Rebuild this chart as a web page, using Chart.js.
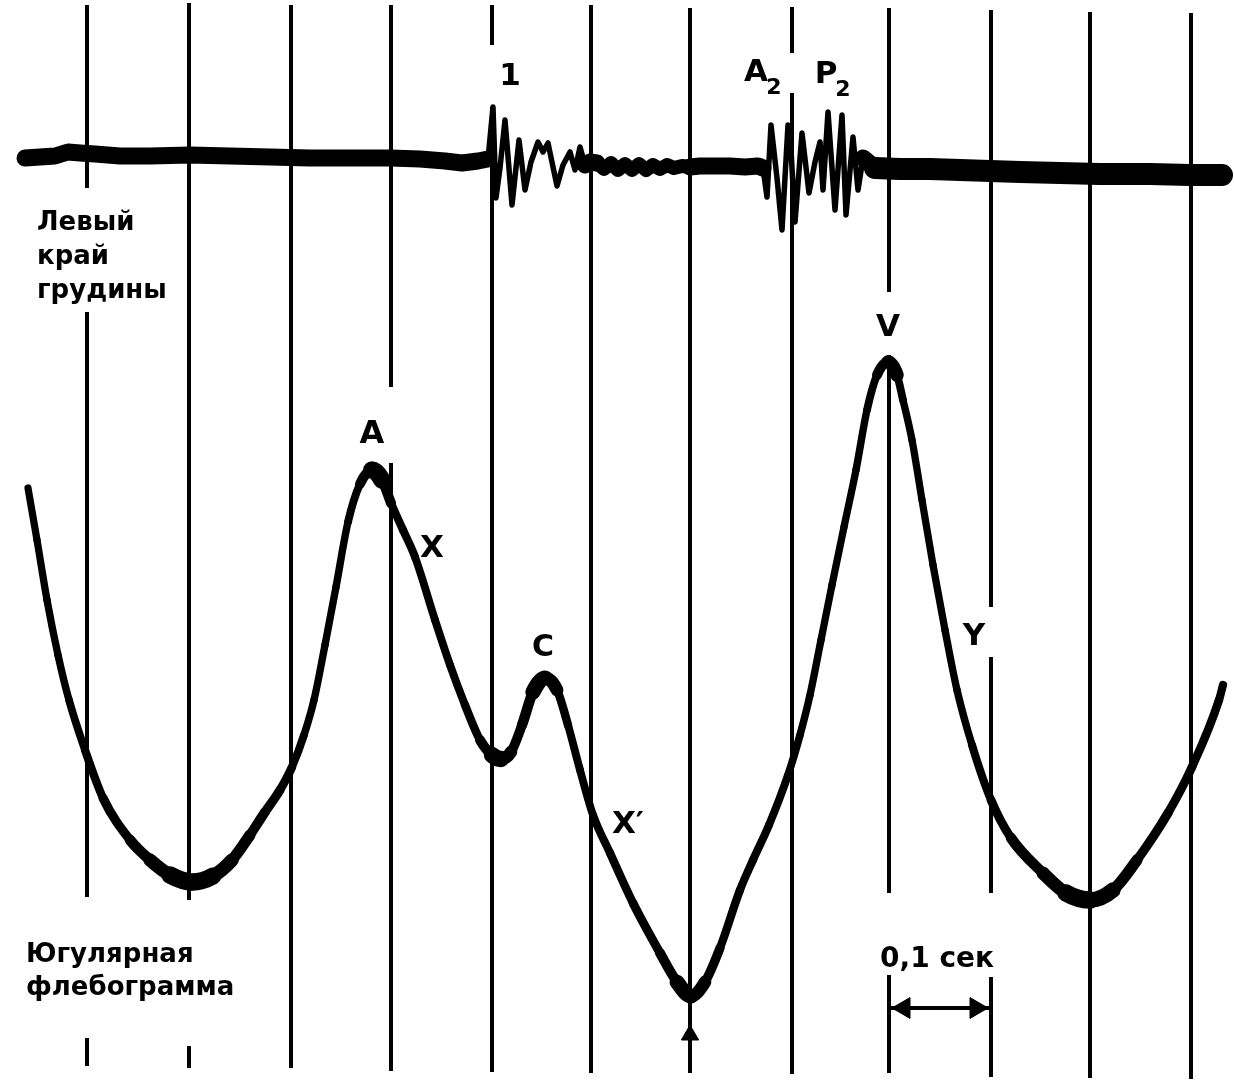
<!DOCTYPE html>
<html>
<head>
<meta charset="utf-8">
<script src="https://cdn.jsdelivr.net/npm/chart.js@4/dist/chart.umd.min.js"></script>
<style>
html,body{margin:0;padding:0;background:#fff;}
canvas{display:block;}
</style>
</head>
<body>
<canvas id="c" width="1234" height="1085"></canvas>
<script>
// ---- DATA (time in ms from first timer mark; amplitudes in arbitrary recording units) ----
const markTimes = [0, 102, 204, 304, 405, 504, 603, 705, 802, 904, 1003, 1104];
// visible pieces of each timer mark, [top, bottom] in phlebogram units
const markPieces = [
  [[995, 812], [688, 103], [-38, -66]],
  [[997, 100], [-46, -68]],
  [[995, -68]],
  [[995, 613], [537, -71]],
  [[995, 955], [893, -72]],
  [[995, -73]],
  [[992, -73]],
  [[993, 947], [907, -74]],
  [[992, 708], [645, 107], [25, -73]],
  [[990, 393], [343, 107], [23, -77]],
  [[988, -78]],
  [[987, -79]]
];

// Phonocardiogram, left sternal border
const phonoTimes = [-62, -47, -32, -19, -7, 8, 33, 63, 103, 143, 183, 223, 263, 303, 333, 358, 375, 391, 401,
  406, 409, 413, 418, 425, 432, 438, 444, 451, 456, 461, 470, 476, 483, 488, 493, 498, 503,
  510, 517, 524, 531, 538, 545, 552, 559, 566, 573, 580, 587, 595, 603, 613, 628, 643, 658, 671,
  676, 680, 684, 690, 695, 701, 704, 708, 715, 722, 728, 733, 736, 741, 748, 755, 759, 766, 771, 776, 781,
  788, 813, 843, 873, 903, 933, 973, 1013, 1063, 1103, 1135];
const phonoValues = [2, 3, 4, 8, 7, 6, 4, 4, 5, 4, 3, 2, 2, 2, 1, -1, -3, -1, 1,
  53, -38, -8, 40, -45, 20, -30, -2, 18, 8, 17, -26, -5, 8, -10, 13, -5, -2,
  -3, -9, -3, -10, -4, -10, -4, -10, -5, -9, -5, -8, -6, -7, -6, -6, -6, -7, -6,
  -8, -37, 35, -18, -70, 35, 10, -62, 27, -33, -2, 18, -30, 48, -50, 45, -55, 23, -30, 2, -2,
  -8, -9, -9, -10, -11, -12, -13, -14, -14, -15, -15];

// Jugular phlebogram
const jugularTimes = [-59, -50, -40, -29, -18, -2, 16, 43, 63, 83, 105, 126, 145, 163, 178, 193, 205, 217, 227,
  238, 249, 261, 273, 285, 295, 304, 316, 328, 348, 363, 378, 393, 405, 414, 424, 435, 446, 458, 470, 481,
  493, 506, 523, 546, 573, 590, 604, 618, 633, 653, 666, 682, 701, 713, 723, 734, 745, 757, 769, 780, 790, 801,
  810, 816, 825, 835, 846, 858, 870, 885, 904, 924, 956, 979, 1003, 1026, 1050, 1081, 1105, 1132, 1136];
const jugularValues = [512, 460, 400, 345, 300, 250, 202, 160, 140, 125, 118, 124, 140, 165, 188, 210, 233, 265, 300,
  355, 413, 478, 516, 530, 520, 497, 470, 443, 380, 335, 295, 260, 245, 241, 248, 275, 308, 322, 310, 275,
  230, 185, 147, 97, 47, 18, 4, 18, 52, 110, 140, 175, 225, 265, 305, 360, 415, 473, 530, 590, 625, 638,
  625, 600, 560, 500, 435, 370, 310, 255, 200, 162, 127, 107, 100, 110, 140, 187, 233, 300, 315];

// 0,1 s calibration bracket between marks 8 and 9
const scaleBarLevel = -8;
const scaleBarText = '0,1 сек';

// ---- LABELS ----
const notes = [
  {text: '1', t: 423, v: 926, size: 31},
  {text: 'A', t: 669, v: 930, size: 31},
  {text: '2', t: 687, v: 914, size: 22},
  {text: 'P', t: 739, v: 928, size: 31},
  {text: '2', t: 756, v: 912, size: 22},
  {text: 'A', t: 285, v: 569, size: 32},
  {text: 'X', t: 345, v: 454, size: 31},
  {text: 'C', t: 456, v: 355, size: 30},
  {text: 'X′', t: 541, v: 178, size: 31},
  {text: 'V', t: 801, v: 675, size: 31},
  {text: 'Y', t: 887, v: 366, size: 31},
  {text: scaleBarText, t: 850, v: 43, size: 28},
  {text: 'Левый', t: -50, v: 770, size: 26, align: 'left'},
  {text: 'край', t: -50, v: 736, size: 26, align: 'left'},
  {text: 'грудины', t: -50, v: 702, size: 26, align: 'left'},
  {text: 'Югулярная', t: -61, v: 38, size: 26, align: 'left'},
  {text: 'флебограмма', t: -61, v: 5, size: 26, align: 'left'}
];

// ---- BUILD ----
const pts = (xs, ys) => xs.map((x, i) => ({x: x, y: ys[i]}));
const markData = [];
markTimes.forEach((t, i) => {
  markPieces[i].forEach(p => {
    markData.push({x: t, y: p[0]}, {x: t, y: p[1]}, {x: t, y: null});
  });
});

// photographic trace: slower movement -> thicker line (jugular)
function speedWidth(thin, thick, k, spread) {
  return ctx => {
    const els = ctx.chart.getDatasetMeta(ctx.datasetIndex).data;
    const a = els[Math.max(ctx.p0DataIndex - spread, 0)] || ctx.p0;
    const b = els[Math.min(ctx.p1DataIndex + spread, els.length - 1)] || ctx.p1;
    const s = Math.abs(b.y - a.y) / Math.max(Math.abs(b.x - a.x), 0.001);
    const s2 = Math.abs(ctx.p1.y - ctx.p0.y) / Math.max(Math.abs(ctx.p1.x - ctx.p0.x), 0.001);
    const sl = Math.min(s, s2) * 0.5 + s * 0.5;
    return thin + (thick - thin) / (1 + k * sl * sl);
  };
}
// phonocardiogram: thin fast vibrations, thick noisy baseline band
function phonoWidth(ctx) {
  if (Math.abs(ctx.p1.y - ctx.p0.y) > 8) return 5.5;
  const t = ctx.p0.parsed.x;
  return t > 785 ? 22 : (t > 505 && t < 600 ? 14 : 17);
}

const textPlugin = {
  id: 'traceLabels',
  afterDatasetsDraw(chart) {
    const {ctx} = chart;
    const x = chart.scales.x, y = chart.scales.yJ;
    ctx.save();
    ctx.fillStyle = '#000';
    notes.forEach(n => {
      ctx.font = 'bold ' + n.size + 'px "DejaVu Sans"';
      ctx.textAlign = n.align || 'center';
      ctx.textBaseline = 'alphabetic';
      const px = x.getPixelForValue(n.t);
      let py = y.getPixelForValue(n.v);
      if (!n.align) py += n.size * 0.36;
      ctx.fillText(n.text, px, py);
    });
    ctx.restore();
  }
};

new Chart(document.getElementById('c'), {
  type: 'line',
  data: {
    datasets: [
      {
        label: 'Югулярная флебограмма',
        data: pts(jugularTimes, jugularValues),
        yAxisID: 'yJ',
        borderColor: '#000',
        cubicInterpolationMode: 'monotone',
        borderCapStyle: 'round',
        borderJoinStyle: 'round',
        borderWidth: 8,
        pointRadius: 0,
        segment: {borderWidth: speedWidth(7, 18, 1.5, 2)}
      },
      {
        label: 'Левый край грудины',
        data: pts(phonoTimes, phonoValues),
        yAxisID: 'yP',
        borderColor: '#000',
        tension: 0,
        borderCapStyle: 'round',
        borderJoinStyle: 'round',
        borderWidth: 17,
        pointRadius: 0,
        segment: {borderWidth: phonoWidth}
      },
      {
        label: 'scale bar heads',
        data: [{x: markTimes[8] + 15, y: scaleBarLevel}, {x: markTimes[9] - 15, y: scaleBarLevel}],
        yAxisID: 'yJ',
        showLine: false,
        pointStyle: 'triangle',
        pointRadius: 12,
        pointRotation: [270, 90],
        pointBackgroundColor: '#000',
        pointBorderColor: '#000',
        pointBorderWidth: 1
      },
      {
        label: 'scale bar',
        data: [{x: markTimes[8], y: scaleBarLevel}, {x: markTimes[9], y: scaleBarLevel}],
        yAxisID: 'yJ',
        borderColor: '#000',
        borderWidth: 4,
        pointRadius: 0
      },
      {
        label: 'marker',
        data: [{x: markTimes[6], y: -35}],
        yAxisID: 'yJ',
        showLine: false,
        pointStyle: 'triangle',
        pointRadius: 10,
        pointBackgroundColor: '#000',
        pointBorderColor: '#000',
        pointBorderWidth: 1
      },
      {
        label: 'timer marks',
        data: markData,
        yAxisID: 'yJ',
        borderColor: '#000',
        borderWidth: 4,
        borderCapStyle: 'butt',
        tension: 0,
        spanGaps: false,
        pointRadius: 0
      }
    ]
  },
  options: {
    responsive: false,
    animation: false,
    events: [],
    layout: {padding: 0, autoPadding: false},
    plugins: {legend: {display: false}, tooltip: {enabled: false}, title: {display: false}},
    scales: {
      x: {type: 'linear', min: -87, max: 1147, display: false},
      yJ: {type: 'linear', axis: 'y', min: -85, max: 1000, display: false},
      yP: {type: 'linear', axis: 'y', min: -925, max: 160, display: false}
    }
  },
  plugins: [textPlugin]
});
</script>
</body>
</html>
